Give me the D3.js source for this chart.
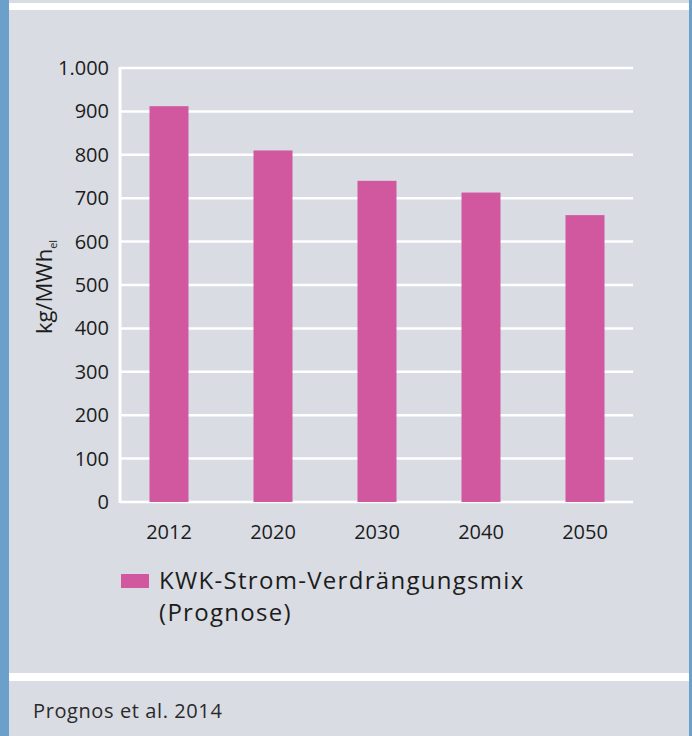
<!DOCTYPE html>
<html>
<head>
<meta charset="utf-8">
<script src="https://cdn.jsdelivr.net/npm/d3@7"></script>
<style>
  html, body { margin: 0; padding: 0; background: #d9dce3; }
  svg { display: block; font-family: "Open Sans", Roboto, sans-serif; }
</style>
</head>
<body>
<div id="chart"></div>
<script>
// data ------------------------------------------------------------
const years  = ["2012", "2020", "2030", "2040", "2050"]
const values = [912, 810, 740, 713, 661]
const yTicks = [0, 100, 200, 300, 400, 500, 600, 700, 800, 900, 1000]
const seriesName = ["KWK-Strom-Verdrängungsmix", "(Prognose)"]
const source = "Prognos et al. 2014"

// layout ----------------------------------------------------------
const width = 692,
      height = 736,
      bg = "#d9dce3",
      stripe = "#6aa0c9",
      barColor = "#d1579f",
      textColor = "#1c1c1c"

const de = d3.formatLocale({ decimal: ",", thousands: ".", grouping: [3], currency: ["", "€"] })
const fmt = de.format(",")

let svg = d3.select("#chart").append("svg")
  .attr("width", width)
  .attr("height", height)

// frame: background, blue stripes, white bands
svg.append("rect").attr("width", width).attr("height", height).attr("fill", bg)
svg.append("rect").attr("x", 0).attr("y", 0).attr("width", 9).attr("height", height).attr("fill", stripe)
svg.append("rect").attr("x", 689).attr("y", 0).attr("width", 3).attr("height", height).attr("fill", stripe)
svg.append("rect").attr("x", 9).attr("y", 3).attr("width", 680).attr("height", 7).attr("fill", "white")
svg.append("rect").attr("x", 9).attr("y", 673).attr("width", 680).attr("height", 8).attr("fill", "white")

// scales
const x = d3.scaleBand().domain(years).range([117, 637]).paddingInner(0.625).paddingOuter(0.3125)
const y = d3.scaleLinear().domain([0, 1000]).range([502, 68])
const left = 120, right = 633

// gridlines
svg.append("g").selectAll("line")
  .data(yTicks)
  .join("line")
  .attr("x1", left).attr("x2", right)
  .attr("y1", d => y(d)).attr("y2", d => y(d))
  .attr("stroke", "white")
  .attr("stroke-width", 2.5)

// y axis line
svg.append("line")
  .attr("x1", left).attr("x2", left)
  .attr("y1", y(1000) - 1).attr("y2", y(0) + 1)
  .attr("stroke", "white")
  .attr("stroke-width", 3)

// y axis labels
svg.append("g").selectAll("text")
  .data(yTicks)
  .join("text")
  .attr("x", 109)
  .attr("y", d => y(d))
  .attr("dy", "0.35em")
  .attr("text-anchor", "end")
  .attr("font-size", 20)
  .attr("fill", textColor)
  .text(d => fmt(d))

// bars
svg.append("g").selectAll("rect")
  .data(values)
  .join("rect")
  .attr("x", (d, i) => x(years[i]))
  .attr("width", x.bandwidth())
  .attr("y", d => y(d))
  .attr("height", d => y(0) - y(d))
  .attr("fill", barColor)

// x labels
svg.append("g").selectAll("text")
  .data(years)
  .join("text")
  .attr("x", d => x(d) + x.bandwidth() / 2)
  .attr("y", 539)
  .attr("text-anchor", "middle")
  .attr("font-size", 20)
  .attr("fill", textColor)
  .text(d => d)

// y axis title
let yt = svg.append("text")
  .attr("transform", "translate(52,334) rotate(-90)")
  .attr("font-size", 22)
  .attr("fill", textColor)
yt.append("tspan").text("kg/MWh")
yt.append("tspan").attr("font-size", 11).attr("dy", 5).text("el")

// legend
svg.append("rect")
  .attr("x", 121).attr("y", 574)
  .attr("width", 28).attr("height", 14)
  .attr("fill", barColor)

svg.append("g").selectAll("text")
  .data(seriesName)
  .join("text")
  .attr("x", 159)
  .attr("y", (d, i) => 589 + i * 32)
  .attr("font-size", 24)
  .attr("letter-spacing", 1.3)
  .attr("fill", textColor)
  .text(d => d)

// source
svg.append("text")
  .attr("x", 33).attr("y", 718)
  .attr("font-size", 20)
  .attr("letter-spacing", 0.6)
  .attr("fill", "#2a2a2a")
  .text(source)
</script>
</body>
</html>
